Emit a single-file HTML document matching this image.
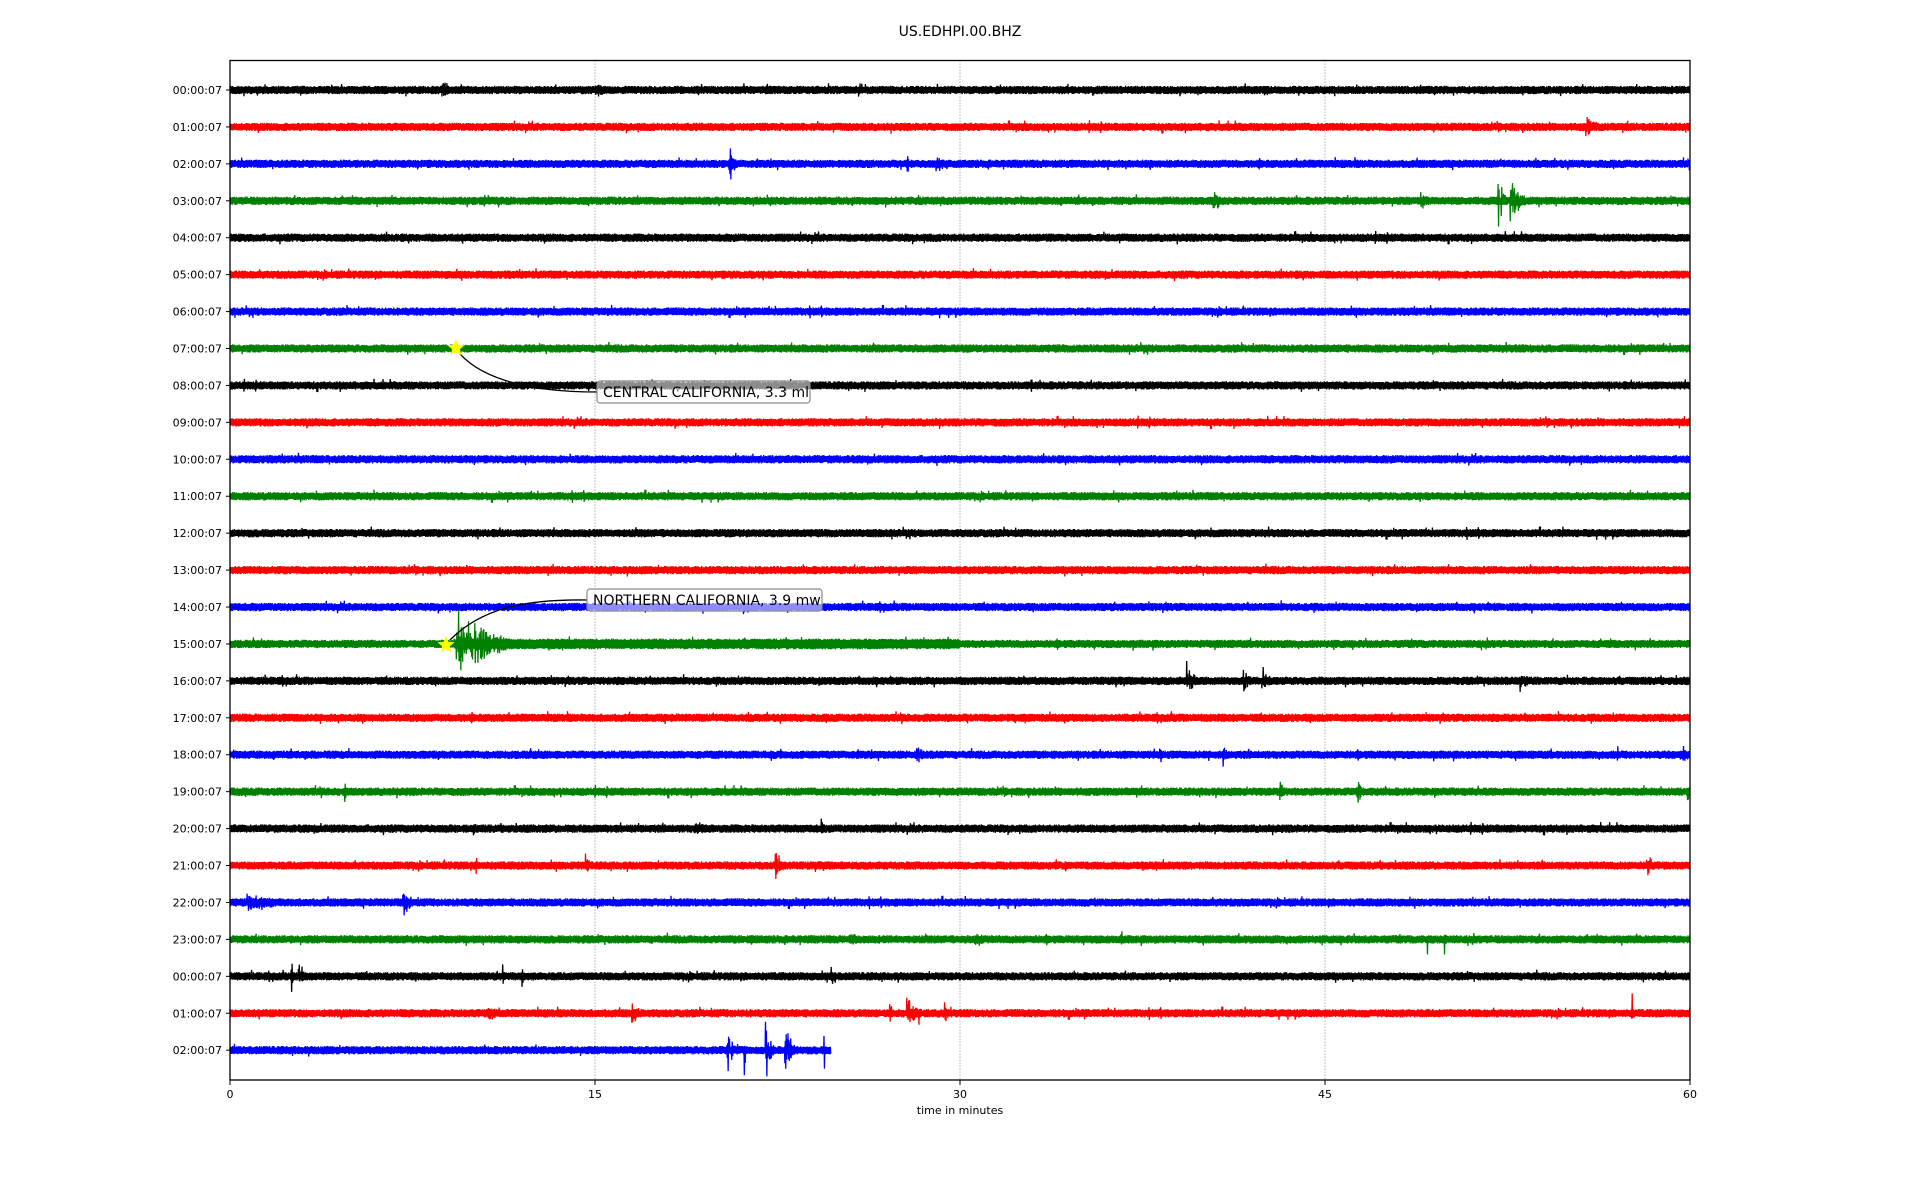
<!DOCTYPE html>
<html><head><meta charset="utf-8"><style>
html,body{margin:0;padding:0;background:#fff;width:1920px;height:1200px;overflow:hidden}
svg{display:block}
text{font-family:"DejaVu Sans","Liberation Sans",sans-serif;fill:#000}
</style></head><body>
<svg id="s" width="1920" height="1200" xmlns="http://www.w3.org/2000/svg">
<rect width="1920" height="1200" fill="#fff"/>
<text x="960" y="36" font-size="14" text-anchor="middle">US.EDHPI.00.BHZ</text>
<g stroke="#b0b0b0" stroke-width="1" stroke-dasharray="1.5,1.5">
<line x1="595" y1="60.5" x2="595" y2="1080"/>
<line x1="960" y1="60.5" x2="960" y2="1080"/>
<line x1="1325" y1="60.5" x2="1325" y2="1080"/>
</g>
<g id="traces"></g>
<g id="labels" font-size="11"></g>
<rect x="230" y="60.5" width="1460" height="1019.5" fill="none" stroke="#000" stroke-width="1.3"/>
<g font-size="11" text-anchor="middle">
<line x1="230" y1="1080" x2="230" y2="1085" stroke="#000"/><text x="230" y="1098">0</text>
<line x1="595" y1="1080" x2="595" y2="1085" stroke="#000"/><text x="595" y="1098">15</text>
<line x1="960" y1="1080" x2="960" y2="1085" stroke="#000"/><text x="960" y="1098">30</text>
<line x1="1325" y1="1080" x2="1325" y2="1085" stroke="#000"/><text x="1325" y="1098">45</text>
<line x1="1690" y1="1080" x2="1690" y2="1085" stroke="#000"/><text x="1690" y="1098">60</text>
<text x="960" y="1114">time in minutes</text>
</g>
<path d="M456 349 C475 375 520 392 597 392" fill="none" stroke="#000" stroke-width="1.3"/>
<path d="M450 640 C480 610 520 599 587 600" fill="none" stroke="#000" stroke-width="1.3"/>
<polygon id="st1" fill="#ffff00"/>
<polygon id="st2" fill="#ffff00"/>
<rect x="597" y="381" width="213" height="22" rx="3" fill="#fff" fill-opacity="0.55" stroke="#888" stroke-width="1.2"/>
<text x="603" y="397" font-size="14">CENTRAL CALIFORNIA, 3.3 ml</text>
<rect x="587" y="589" width="235" height="22" rx="3" fill="#fff" fill-opacity="0.55" stroke="#888" stroke-width="1.2"/>
<text x="593" y="605" font-size="14">NORTHERN CALIFORNIA, 3.9 mw</text>
</svg>
<script>
var seed=12345;function rnd(){seed=(seed*1103515245+12345)%2147483648;return seed/2147483648;}
var cols=["#000000","#ff0000","#0000ff","#008000"];
var hrs=["00","01","02","03","04","05","06","07","08","09","10","11","12","13","14","15","16","17","18","19","20","21","22","23","00","01","02"];
var ev={0:[[8.7,6,0.3],[15,4,0.3]],1:[[55.7,5,0.5]],2:[[20.5,12,0.3],[27.8,10,0.1],[29,5,0.3]],
3:[[40.4,7,0.3],[52.1,18,0.3],[52.6,12,0.6],[48.9,5,0.3]],8:[[32.9,9,0.05]],14:[[21.1,6,0.05]],
15:[[9.3,25,0.5],[9.8,14,1.5]],16:[[39.3,15,0.2],[39.5,20,0.15],[41.6,9,0.3],[42.4,9,0.3],[53,6,0.3]],
18:[[28.2,5,0.3],[38.2,7,0.1],[40.8,10,0.15],[57,6,0.1],[59.6,8,0.3]],
19:[[4.7,6,0.1],[43.1,8,0.2],[46.3,10,0.2],[49.5,6,0.1],[51.3,6,0.1],[59.9,8,0.1]],
20:[[10,7,0.1],[19.1,6,0.3],[24.3,5,0.1]],21:[[10.1,9,0.05],[14.6,7,0.2],[22.4,9,0.3],[58.2,8,0.3]],
22:[[0.7,6,1],[7.1,7,0.4],[35.5,6,0.05]],23:[[21.4,8,0.1],[25.4,6,0.3],[30.6,6,0.3],[49.2,12,0.05],[49.9,15,0.05],[36.6,7,0.05]],
24:[[2.5,14,0.1],[2.8,8,0.3],[11.2,10,0.05],[12,7,0.05],[24.7,5,0.2]],
25:[[10.6,6,0.3],[16.5,6,0.3],[27.1,12,0.1],[27.8,9,0.5],[28.3,12,0.05],[29.3,9,0.2],[57.6,20,0.04]],
26:[[20.4,16,0.3],[21.1,40,0.08],[22,20,0.3],[22.8,15,0.4],[24.4,22,0.04]]};
var g=document.getElementById("traces"),lab=document.getElementById("labels"),out="",lo="";
for(var r=0;r<27;r++){
 var y0=90+r*36.93, end=(r==26)?24.7:60, xEnd=230+end*24.333;
 var d="M230 "+y0.toFixed(1), sgn=1, es=ev[r]||[];
 for(var x=230;x<=xEnd;x+=0.45){
   var m=(x-230)/24.333, a=2.6+rnd()*1.6;
   if(rnd()<0.01)a+=2.5;
   if(r==15&&m>9.2&&m<30)a+=1.2;
   for(var k=0;k<es.length;k++){var e=es[k];var du=Math.max(e[2]*1.3,0.08);var dt=m-e[0];if(dt>=0&&dt<du){var q=rnd();a+=e[1]*1.1*Math.pow(1-dt/du,1.5)*q*q*1.4;}}
   sgn=-sgn; d+=" L"+x.toFixed(2)+" "+(y0+sgn*a).toFixed(1);
 }
 out+='<path d="'+d+'" fill="none" stroke="'+cols[r%4]+'" stroke-width="1.3"/>';
 lo+='<line x1="226" y1="'+y0+'" x2="230" y2="'+y0+'" stroke="#000"/><text x="222" y="'+(y0+4)+'" text-anchor="end">'+hrs[r]+':00:07</text>';
}
g.innerHTML=out;lab.innerHTML=lo;
function star(id,cx,cy,R){var p=[];for(var i=0;i<10;i++){var rr=i%2?R*0.45:R,an=-Math.PI/2+i*Math.PI/5;p.push((cx+rr*Math.cos(an)).toFixed(1)+","+(cy+rr*Math.sin(an)).toFixed(1));}document.getElementById(id).setAttribute("points",p.join(" "));}
star("st1",456,348,9);star("st2",446,645,9);
</script>
</body></html>
